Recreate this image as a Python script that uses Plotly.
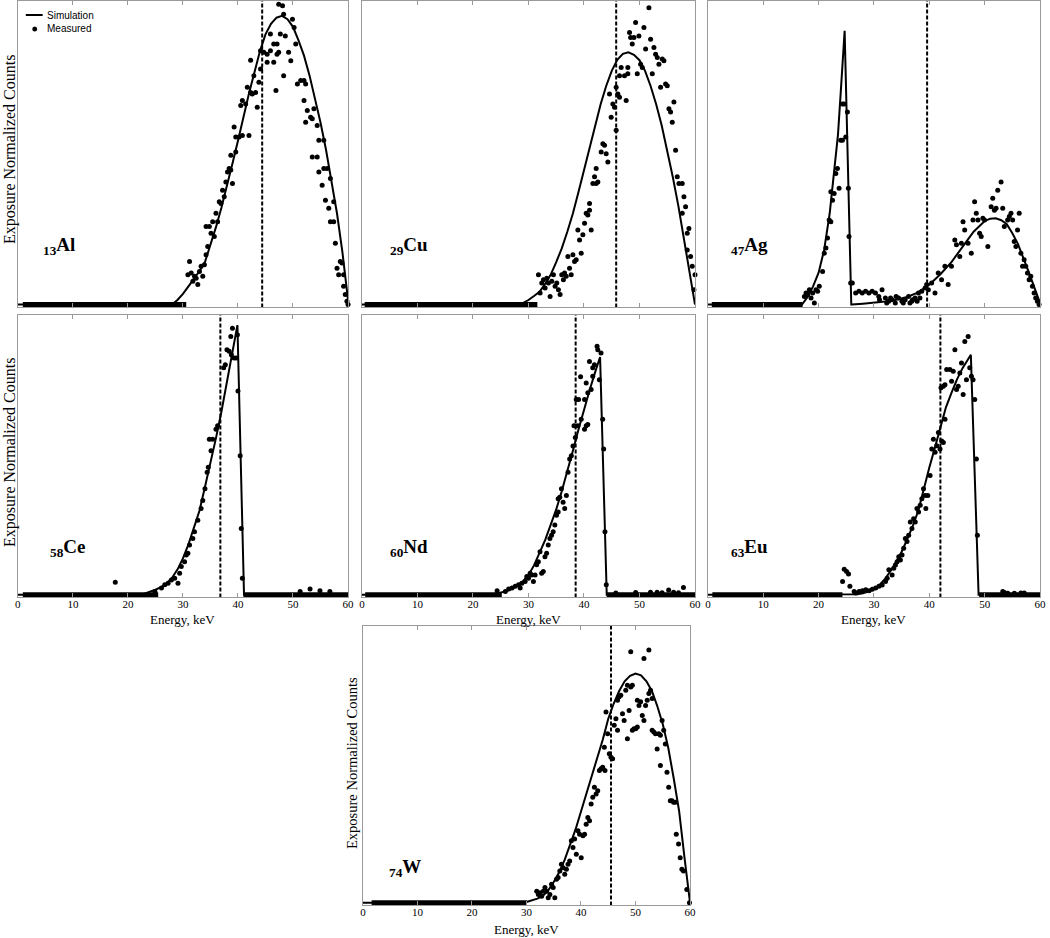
import plotly.graph_objects as go

# ---------------- data ----------------
panel_names = ["Al", "Cu", "Ag", "Ce", "Nd", "Eu", "W"]
atomic_numbers = [13, 29, 47, 58, 60, 63, 74]
mean_energy_kev = [44.4, 45.8, 39.6, 36.8, 38.5, 42.0, 45.5]
x_ticks = [0, 10, 20, 30, 40, 50, 60]
legend_labels = ["Simulation", "Measured"]

# simulated spectra (energy keV, normalized counts)
al_sim_e = [0, 28, 29, 30, 31, 32, 33, 34, 35, 36, 37, 38, 39, 40, 41, 42, 43, 44, 45, 46, 47, 48, 49, 50, 51, 52, 53, 54, 55, 56, 57, 58, 59, 60]
al_sim_v = [0, 0, 0.015, 0.035, 0.06, 0.085, 0.11, 0.14, 0.195, 0.255, 0.32, 0.39, 0.465, 0.54, 0.62, 0.695, 0.765, 0.835, 0.89, 0.925, 0.945, 0.951, 0.94, 0.915, 0.87, 0.82, 0.755, 0.68, 0.6, 0.51, 0.41, 0.3, 0.17, 0.015]

cu_sim_e = [0, 28, 29, 30, 31, 32, 33, 34, 35, 36, 37, 38, 39, 40, 41, 42, 43, 44, 45, 46, 47, 48, 49, 50, 51, 52, 53, 54, 55, 56, 57, 58, 59, 60]
cu_sim_v = [0, 0, 0.005, 0.015, 0.028, 0.042, 0.068, 0.098, 0.14, 0.185, 0.24, 0.30, 0.37, 0.445, 0.52, 0.59, 0.66, 0.72, 0.77, 0.806, 0.826, 0.831, 0.823, 0.805, 0.77, 0.72, 0.66, 0.59, 0.508, 0.42, 0.325, 0.22, 0.115, 0.0]

ag_sim_e = [0, 17, 18, 19, 20, 21, 22, 23, 23.5, 24, 24.7, 25.9, 26, 28, 30, 32, 34, 36, 38, 40, 42, 44, 46, 48, 50, 51, 52, 53, 54, 55, 56, 57, 58, 59, 60]
ag_sim_v = [0, 0, 0.025, 0.06, 0.105, 0.18, 0.3, 0.46, 0.56, 0.7, 0.902, 0, 0, 0.003, 0.006, 0.01, 0.016, 0.025, 0.04, 0.065, 0.1, 0.14, 0.19, 0.24, 0.275, 0.283, 0.284, 0.278, 0.265, 0.235, 0.2, 0.155, 0.105, 0.055, 0.005]

ce_sim_e = [0, 22, 23, 24, 25, 26, 27, 28, 29, 30, 31, 32, 33, 34, 35, 36, 37, 38, 39, 39.9, 41.1, 42, 60]
ce_sim_v = [0, 0, 0.004, 0.01, 0.018, 0.027, 0.04, 0.06, 0.09, 0.13, 0.18, 0.24, 0.30, 0.385, 0.47, 0.56, 0.655, 0.765, 0.87, 0.964, 0.0, 0.0, 0.0]

nd_sim_e = [0, 23, 24, 25, 26, 27, 28, 29, 30, 31, 32, 33, 34, 35, 36, 37, 38, 39, 40, 41, 42, 42.9, 44.1, 60]
nd_sim_v = [0, 0, 0.003, 0.007, 0.013, 0.021, 0.032, 0.048, 0.071, 0.105, 0.15, 0.195, 0.25, 0.305, 0.37, 0.44, 0.515, 0.59, 0.665, 0.73, 0.795, 0.85, 0.0, 0.0]

eu_sim_e = [0, 26, 27, 28, 29, 30, 31, 32, 33, 34, 35, 36, 37, 38, 39, 40, 41, 42, 43, 44, 45, 46, 47, 47.5, 48.9, 60]
eu_sim_v = [0, 0, 0.002, 0.005, 0.011, 0.02, 0.035, 0.057, 0.085, 0.118, 0.154, 0.198, 0.245, 0.3, 0.38, 0.455, 0.525, 0.6, 0.67, 0.722, 0.77, 0.81, 0.845, 0.858, 0.0, 0.0]

w_sim_e = [0, 29, 30, 31, 32, 33, 34, 35, 36, 37, 38, 39, 40, 41, 42, 43, 44, 45, 46, 47, 48, 49, 50, 51, 52, 53, 54, 55, 56, 57, 58, 59, 60]
w_sim_v = [0, 0, 0.003, 0.008, 0.015, 0.025, 0.045, 0.075, 0.11, 0.155, 0.21, 0.265, 0.33, 0.395, 0.455, 0.52, 0.59, 0.665, 0.72, 0.765, 0.80, 0.82, 0.828, 0.822, 0.80, 0.765, 0.71, 0.645, 0.56, 0.45, 0.33, 0.16, 0.0]

# measured spectra: (energy keV, normalized counts)
al_meas = [(31.2,0.142),(30.9,0.098),(31.5,0.104),(32.1,0.093),(31.8,0.077),(32.7,0.066),(32.4,0.087),(33.0,0.109),(33.3,0.126),(33.6,0.093),(33.9,0.131),(34.2,0.164),(34.5,0.191),(34.2,0.257),(34.8,0.257),(35.4,0.273),(35.1,0.235),(35.7,0.224),(36.3,0.273),(36.0,0.301),(36.6,0.339),(36.9,0.333),(37.2,0.377),(37.5,0.355),(37.8,0.404),(38.1,0.437),(38.4,0.448),(38.7,0.443),(39.0,0.399),(38.7,0.492),(39.6,0.503),(39.6,0.552),(40.2,0.552),(39.3,0.585),(40.8,0.557),(42.0,0.557),(40.5,0.656),(40.8,0.672),(41.4,0.661),(41.7,0.716),(42.3,0.699),(42.6,0.694),(42.9,0.754),(43.2,0.699),(43.5,0.650),(43.8,0.732),(44.1,0.776),(42.3,0.805),(44.1,0.836),(44.7,0.831),(45.3,0.825),(45.9,0.836),(45.3,0.798),(46.5,0.798),(46.9,0.705),(47.1,0.825),(47.4,0.831),(48.3,0.754),(48.6,0.885),(49.2,0.831),(49.6,0.803),(47.7,0.891),(45.9,0.891),(46.5,0.858),(47.1,0.858),(47.4,0.989),(48.1,0.984),(48.3,0.956),(49.9,0.940),(50.2,0.913),(50.5,0.858),(50.8,0.727),(51.4,0.738),(52.0,0.738),(52.3,0.727),(52.0,0.672),(52.6,0.639),(53.2,0.617),(53.8,0.645),(53.5,0.612),(52.3,0.601),(54.4,0.590),(54.7,0.541),(55.6,0.541),(53.5,0.486),(54.4,0.486),(54.7,0.437),(55.6,0.448),(56.2,0.448),(55.3,0.393),(56.8,0.415),(55.9,0.344),(57.4,0.339),(56.5,0.317),(56.8,0.273),(57.4,0.273),(57.7,0.202),(58.6,0.142),(58.9,0.137),(58.0,0.120),(58.3,0.098),(59.2,0.098),(59.2,0.060),(59.5,0.033),(59.8,0.011),(60.0,0.0)]

cu_meas = [(31.8,0.098),(32.1,0.038),(32.4,0.071),(32.7,0.082),(33.0,0.055),(33.3,0.087),(33.6,0.071),(33.9,0.027),(34.2,0.077),(34.5,0.098),(34.8,0.060),(35.1,0.071),(35.4,0.049),(35.7,0.033),(36.0,0.098),(36.3,0.082),(36.5,0.104),(36.8,0.093),(37.1,0.158),(37.4,0.120),(37.7,0.098),(38.0,0.164),(38.3,0.142),(38.6,0.148),(38.9,0.246),(39.2,0.213),(39.8,0.230),(39.5,0.169),(40.1,0.268),(40.4,0.301),(40.7,0.295),(41.0,0.333),(41.3,0.246),(41.0,0.311),(41.6,0.399),(41.9,0.421),(42.2,0.399),(42.5,0.404),(42.2,0.448),(43.1,0.503),(43.4,0.530),(43.7,0.525),(44.0,0.497),(44.3,0.470),(44.6,0.694),(44.9,0.617),(45.2,0.661),(45.5,0.650),(45.8,0.574),(45.8,0.716),(46.1,0.694),(46.4,0.683),(46.7,0.781),(46.4,0.754),(47.3,0.754),(47.6,0.672),(47.9,0.781),(47.9,0.760),(48.2,0.896),(48.4,0.880),(48.7,0.858),(49.0,0.880),(49.3,0.929),(49.6,0.760),(49.9,0.885),(50.2,0.792),(50.5,0.781),(50.8,0.913),(51.1,0.842),(51.7,0.978),(52.0,0.874),(52.3,0.760),(52.6,0.847),(52.9,0.825),(53.2,0.814),(53.5,0.792),(53.8,0.716),(54.1,0.809),(54.4,0.803),(54.7,0.727),(55.0,0.721),(55.3,0.645),(55.6,0.634),(55.9,0.601),(56.2,0.667),(56.5,0.508),(56.8,0.421),(57.1,0.399),(57.7,0.399),(58.0,0.355),(57.7,0.301),(58.3,0.322),(58.6,0.235),(58.9,0.251),(58.6,0.180),(59.2,0.158),(59.5,0.126),(59.8,0.049),(60.0,0.098)]

ag_meas = [(17.43,0.027),(17.73,0.038),(18.03,0.033),(18.33,0.049),(18.63,0.022),(18.93,0.038),(19.23,0.005),(19.52,0.049),(19.82,0.044),(20.12,0.06),(20.72,0.109),(21.02,0.169),(21.32,0.186),(21.61,0.219),(21.91,0.279),(22.21,0.273),(22.51,0.344),(22.81,0.366),(22.21,0.372),(23.11,0.432),(23.4,0.448),(23.7,0.383),(24.0,0.541),(24.3,0.541),(24.3,0.661),(24.6,0.661),(24.9,0.552),(25.2,0.634),(25.37,0.383),(25.49,0.224),(25.79,0.071),(26.09,0.071),(26.69,0.038),(27.29,0.044),(27.88,0.038),(28.48,0.044),(29.08,0.038),(29.67,0.044),(30.27,0.038),(30.87,0.027),(31.46,0.049),(32.06,0.022),(32.66,0.011),(33.26,0.016),(33.85,0.005),(34.45,0.022),(35.05,0.011),(35.64,0.016),(36.24,0.027),(36.84,0.011),(37.43,0.022),(38.03,0.038),(38.63,0.044),(39.23,0.055),(39.52,0.066),(39.82,0.049),(40.42,0.071),(41.02,0.038),(41.61,0.104),(42.21,0.082),(42.81,0.126),(43.4,0.066),(44.0,0.126),(44.6,0.213),(44.9,0.197),(45.5,0.158),(45.79,0.202),(46.09,0.273),(46.39,0.246),(46.99,0.202),(47.58,0.169),(47.88,0.279),(48.18,0.339),(48.48,0.301),(48.78,0.279),(49.08,0.235),(49.37,0.224),(49.67,0.284),(49.97,0.279),(50.57,0.191),(51.17,0.322),(51.46,0.35),(51.76,0.311),(52.06,0.317),(52.36,0.377),(52.96,0.404),(53.26,0.317),(53.55,0.257),(54.15,0.279),(54.45,0.29),(54.75,0.301),(55.05,0.279),(55.34,0.208),(55.64,0.191),(55.94,0.246),(56.24,0.301),(56.54,0.169),(56.84,0.126),(57.13,0.148),(57.43,0.126),(57.73,0.104),(58.03,0.082),(58.33,0.093),(58.63,0.06),(58.93,0.038),(59.22,0.022),(59.52,0.011),(59.82,0.0),(31.0,0.016),(32.3,0.005),(33.0,0.022),(34.0,0.027),(35.3,0.005),(36.5,0.005),(37.0,0.016),(37.8,0.011),(38.3,0.022)]

ce_meas = [(17.7,0.045),(24.9,0.012),(26.1,0.024),(26.7,0.036),(27.3,0.041),(27.9,0.053),(28.5,0.059),(29.1,0.041),(29.4,0.077),(29.7,0.101),(30.3,0.118),(30.6,0.142),(30.9,0.148),(31.2,0.178),(31.8,0.201),(32.1,0.225),(32.7,0.266),(33.3,0.308),(33.6,0.337),(34.0,0.379),(34.4,0.438),(34.6,0.456),(35.1,0.515),(34.8,0.556),(35.4,0.556),(36.0,0.592),(36.3,0.604),(37.4,0.811),(37.7,0.822),(38.0,0.876),(38.4,0.870),(38.8,0.858),(39.3,0.846),(39.7,0.846),(38.7,0.923),(39.0,0.953),(39.9,0.929),(40.0,0.728),(40.4,0.497),(40.6,0.237),(40.8,0.059),(51.3,0.012),(53.1,0.021),(54.9,0.014),(56.7,0.012)]

nd_meas = [(24.35,0.014),(25.84,0.012),(26.43,0.021),(27.03,0.024),(27.62,0.030),(28.22,0.036),(28.51,0.024),(28.81,0.041),(29.4,0.047),(29.7,0.065),(30.0,0.059),(30.3,0.077),(30.59,0.071),(30.89,0.047),(31.19,0.071),(31.48,0.107),(31.78,0.118),(32.08,0.154),(32.37,0.077),(32.67,0.083),(32.97,0.136),(33.27,0.148),(33.56,0.178),(33.86,0.201),(34.16,0.213),(34.45,0.225),(34.75,0.249),(35.05,0.284),(35.35,0.296),(35.64,0.349),(35.94,0.379),(36.24,0.331),(36.53,0.308),(36.83,0.355),(35.35,0.343),(37.13,0.438),(37.72,0.497),(38.02,0.532),(37.42,0.485),(38.44,0.562),(38.2,0.604),(38.91,0.604),(38.61,0.698),(39.03,0.698),(39.39,0.779),(39.5,0.627),(40.1,0.592),(40.4,0.604),(40.69,0.609),(40.1,0.698),(40.4,0.757),(40.69,0.722),(41.29,0.734),(41.58,0.781),(41.88,0.822),(40.99,0.834),(41.58,0.811),(42.36,0.888),(42.48,0.876),(43.07,0.864),(42.77,0.769),(43.37,0.627),(43.55,0.521),(43.78,0.225),(44.02,0.036),(45.74,0.006),(49.31,0.008),(51.98,0.009),(53.17,0.009),(54.06,0.007),(55.25,0.017),(56.14,0.009),(57.03,0.007),(57.92,0.026)]

eu_meas = [(24.33,0.047),(24.63,0.091),(25.05,0.083),(25.4,0.074),(25.65,0.030),(26.42,0.012),(26.72,0.006),(27.32,0.012),(27.91,0.014),(28.51,0.018),(29.11,0.014),(29.70,0.020),(30.3,0.024),(30.9,0.030),(31.49,0.035),(32.09,0.047),(32.39,0.059),(32.69,0.089),(33.28,0.071),(33.58,0.095),(33.88,0.106),(34.18,0.118),(34.48,0.136),(34.77,0.124),(35.07,0.142),(35.37,0.166),(35.67,0.201),(35.97,0.190),(36.27,0.213),(36.56,0.260),(36.86,0.237),(37.16,0.272),(37.46,0.260),(37.76,0.308),(38.06,0.296),(38.35,0.320),(38.65,0.343),(38.95,0.379),(39.25,0.355),(39.37,0.308),(39.73,0.355),(40.14,0.426),(40.44,0.521),(40.74,0.556),(41.04,0.509),(41.34,0.533),(41.64,0.580),(41.93,0.521),(42.23,0.550),(42.53,0.544),(42.83,0.627),(42.11,0.740),(42.53,0.745),(42.83,0.751),(43.13,0.805),(43.72,0.805),(44.02,0.763),(44.32,0.799),(44.62,0.876),(44.92,0.734),(45.22,0.745),(45.51,0.793),(45.81,0.828),(46.11,0.716),(46.41,0.905),(46.71,0.769),(47.01,0.923),(47.3,0.811),(47.6,0.781),(47.9,0.769),(48.2,0.698),(48.5,0.485),(48.68,0.213),(53.27,0.012),(53.57,0.008),(54.17,0.005),(55.36,0.005),(56.55,0.006),(57.15,0.006)]

w_meas = [(31.88,0.042),(32.18,0.030),(32.48,0.036),(32.78,0.024),(33.09,0.042),(33.39,0.055),(33.69,0.042),(33.99,0.018),(34.30,0.030),(34.6,0.067),(34.9,0.055),(35.2,0.018),(35.51,0.085),(35.81,0.091),(36.11,0.115),(36.41,0.139),(36.72,0.127),(37.02,0.103),(37.32,0.121),(37.62,0.139),(37.93,0.151),(38.23,0.224),(38.53,0.200),(38.83,0.230),(39.14,0.175),(39.44,0.260),(39.74,0.248),(40.04,0.163),(40.35,0.242),(40.65,0.248),(40.95,0.284),(41.25,0.308),(41.56,0.296),(41.86,0.357),(42.16,0.381),(42.46,0.417),(42.77,0.393),(43.07,0.405),(43.37,0.478),(43.67,0.484),(43.98,0.490),(44.28,0.562),(44.4,0.478),(44.58,0.689),(44.88,0.611),(45.19,0.538),(45.49,0.526),(45.79,0.520),(46.09,0.641),(46.4,0.665),(46.7,0.623),(46.7,0.732),(47.0,0.744),(47.3,0.750),(47.61,0.683),(47.91,0.659),(48.51,0.593),(48.21,0.768),(48.51,0.786),(49.12,0.780),(49.42,0.786),(48.82,0.695),(49.42,0.623),(49.72,0.629),(50.03,0.629),(50.33,0.635),(50.33,0.732),(50.63,0.713),(50.93,0.726),(51.24,0.677),(51.54,0.659),(51.84,0.713),(52.14,0.732),(52.45,0.756),(52.75,0.768),(53.05,0.738),(53.05,0.623),(53.35,0.617),(53.66,0.611),(53.96,0.556),(54.26,0.611),(54.56,0.496),(54.56,0.605),(54.87,0.659),(55.17,0.623),(55.47,0.574),(55.77,0.472),(56.08,0.417),(56.38,0.369),(56.68,0.369),(56.98,0.363),(57.29,0.363),(57.47,0.248),(57.89,0.212),(58.19,0.163),(58.5,0.121),(58.8,0.115),(59.4,0.048),(59.89,0.0),(49.12,0.907),(51.54,0.883),(52.45,0.913)]

# energy spans in which the measured counts sit on zero (densely packed channels)
al_zero_runs = [(0.9, 30.6)]
cu_zero_runs = [(0.5, 31.6)]
ag_zero_runs = [(0.7, 17.1)]
ce_zero_runs = [(0.9, 25.5), (41.0, 60.0)]
nd_zero_runs = [(0.6, 25.2), (44.1, 60.0)]
eu_zero_runs = [(0.8, 24.3), (49.0, 60.0)]
w_zero_runs = [(1.6, 30.1)]

sim_e = [al_sim_e, cu_sim_e, ag_sim_e, ce_sim_e, nd_sim_e, eu_sim_e, w_sim_e]
sim_v = [al_sim_v, cu_sim_v, ag_sim_v, ce_sim_v, nd_sim_v, eu_sim_v, w_sim_v]
meas = [al_meas, cu_meas, ag_meas, ce_meas, nd_meas, eu_meas, w_meas]
zero_runs = [al_zero_runs, cu_zero_runs, ag_zero_runs, ce_zero_runs, nd_zero_runs, eu_zero_runs, w_zero_runs]

# ---------------- layout geometry (pixels) ----------------
W_PX, H_PX = 1050, 938
panel_px = [  # (left, right, top, bottom)
    (15, 348, 1, 307), (362, 698, 1, 307), (711, 1046, 1, 307),
    (15, 348, 315, 597), (362, 698, 315, 597), (711, 1046, 315, 597),
    (363, 693, 626, 905),
]
label_px = [(56, 246), (410, 246), (753, 246), (65, 548), (410, 548), (753, 548), (405, 868)]
show_ticklabels = [False, False, False, True, True, True, True]

SERIF = "Liberation Serif, Times New Roman, serif"
NARROW = "Liberation Sans Narrow, Liberation Sans, Arial, sans-serif"
FRAME = "#9a9a9a"

def px_x(v):
    return v / W_PX

def px_y(v):
    return 1 - v / H_PX

fig = go.Figure()

for i in range(7):
    ax = "" if i == 0 else str(i + 1)
    xref, yref = "x" + ax, "y" + ax
    for (e0, e1) in zero_runs[i]:
        fig.add_trace(go.Scatter(x=[e0, e1], y=[0, 0], mode="lines",
                                 line=dict(color="black", width=5),
                                 xaxis=xref, yaxis=yref, showlegend=False, hoverinfo="skip"))
    fig.add_trace(go.Scatter(x=sim_e[i], y=sim_v[i], mode="lines",
                             line=dict(color="black", width=2),
                             name=legend_labels[0], xaxis=xref, yaxis=yref, showlegend=False))
    fig.add_trace(go.Scatter(x=[p[0] for p in meas[i]], y=[p[1] for p in meas[i]], mode="markers",
                             marker=dict(color="black", size=5),
                             name=legend_labels[1], cliponaxis=False,
                             xaxis=xref, yaxis=yref, showlegend=False))
    fig.add_trace(go.Scatter(x=[mean_energy_kev[i]] * 2, y=[-0.01, 1.0], mode="lines",
                             line=dict(color="black", width=2, dash="4px,2px"),
                             xaxis=xref, yaxis=yref, showlegend=False, hoverinfo="skip"))

    l, r, t, b = panel_px[i]
    fig.layout["xaxis" + ax] = dict(
        domain=[px_x(l), px_x(r)], anchor=yref, range=[0, 60],
        tickvals=x_ticks, ticks="inside", ticklen=4, tickcolor=FRAME,
        showline=True, linecolor=FRAME, linewidth=1, mirror="ticks",
        showgrid=False, zeroline=False, showticklabels=show_ticklabels[i],
        ticklabelstandoff=-3,
        tickfont=dict(family=SERIF, size=11, color="black"))
    fig.layout["yaxis" + ax] = dict(
        domain=[px_y(b), px_y(t)], anchor=xref, range=[-0.008, 1.0],
        showticklabels=False, ticks="", showline=True, linecolor=FRAME, linewidth=1,
        mirror=True, showgrid=False, zeroline=False)

    lx, ly = label_px[i]
    fig.add_annotation(x=px_x(lx), y=px_y(ly), xref="paper", yref="paper",
                       text="<b><sub>%d</sub>%s</b>" % (atomic_numbers[i], panel_names[i]),
                       showarrow=False, font=dict(family=SERIF, size=19, color="black"),
                       xanchor="center", yanchor="middle")

# legend (inside the first panel, upper left)
fig.add_shape(type="line", xref="paper", yref="paper",
              x0=px_x(23), x1=px_x(40), y0=px_y(15), y1=px_y(15),
              line=dict(color="black", width=2))
fig.add_shape(type="circle", xref="paper", yref="paper",
              x0=px_x(29.5), x1=px_x(34.5), y0=px_y(31.5), y1=px_y(26.5),
              fillcolor="black", line=dict(color="black", width=0))
for k, yy in enumerate([15, 29]):
    fig.add_annotation(x=px_x(42), y=px_y(yy), xref="paper", yref="paper",
                       text=legend_labels[k], showarrow=False,
                       font=dict(family=NARROW, size=10, color="black"),
                       xanchor="left", yanchor="middle")

# axis titles
for (x, y, size) in [(7, 149, 16), (7, 452, 16), (352, 763, 14.5)]:
    fig.add_annotation(x=px_x(x), y=px_y(y), xref="paper", yref="paper",
                       text="Exposure Normalized Counts", textangle=-90, showarrow=False,
                       font=dict(family=SERIF, size=size, color="black"),
                       xanchor="center", yanchor="middle")
for (x, y) in [(181, 619), (530, 619), (878, 619), (528, 929)]:
    fig.add_annotation(x=px_x(x), y=px_y(y), xref="paper", yref="paper",
                       text="Energy, keV", showarrow=False,
                       font=dict(family=SERIF, size=13, color="black"),
                       xanchor="center", yanchor="middle")

fig.update_layout(
    width=W_PX, height=H_PX, margin=dict(l=0, r=0, t=0, b=0),
    paper_bgcolor="white", plot_bgcolor="white", showlegend=False,
)

fig.write_html("out.html", config={"displayModeBar": False},
               post_script="document.body.style.margin='0px';document.body.style.overflow='hidden';")
